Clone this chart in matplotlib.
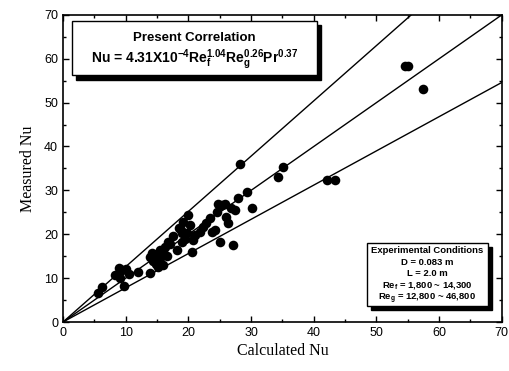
import matplotlib
matplotlib.use("Agg")
import matplotlib.pyplot as plt
from matplotlib.patches import Rectangle
import numpy as np

plt.rcParams["mathtext.fontset"] = "custom"
plt.rcParams["mathtext.rm"] = "Liberation Sans:bold"
plt.rcParams["mathtext.it"] = "Liberation Sans:bold"
plt.rcParams["mathtext.bf"] = "Liberation Sans:bold"

calc = [5.6, 6.2, 8.3, 9.4, 9.1, 9.7, 9.0, 10.0, 12.0, 13.9, 13.9, 14.4, 15.0, 15.5, 16.0, 16.6,
        14.8, 15.5, 16.7, 16.0, 17.0, 18.2, 19.0, 19.0, 19.1, 19.9, 20.6, 20.7, 19.8, 21.8,
        22.3, 23.4, 23.7, 24.2, 25.0, 25.3, 26.3, 27.1, 27.9, 29.3, 30.1, 28.2, 34.3, 35.1,
        42.1, 43.4, 54.6, 55.1, 57.4, 18.5, 19.5, 20.2, 24.5, 25.8, 26.8, 27.5, 15.2, 16.3,
        14.2, 17.5, 22.8, 26.0, 24.8, 21.0, 18.8, 10.5]
meas = [6.6, 8.0, 10.7, 11.8, 10.0, 8.2, 12.3, 12.0, 11.4, 11.2, 14.8, 14.0, 15.5, 16.4, 16.0, 15.0,
        13.2, 14.5, 18.2, 13.0, 17.8, 16.4, 20.3, 18.2, 22.8, 24.4, 15.9, 18.7, 20.3, 20.5,
        21.6, 23.6, 20.5, 21.0, 18.2, 26.6, 22.5, 17.5, 28.2, 29.6, 26.0, 36.0, 33.0, 35.3,
        32.3, 32.3, 58.3, 58.3, 53.1, 21.5, 19.0, 22.0, 25.0, 26.8, 26.0, 25.5, 12.5, 17.0,
        15.8, 19.5, 22.5, 24.0, 27.0, 19.8, 21.0, 11.0]

line_slopes = [1.26, 1.0, 0.78]

x_ticks = [0, 10, 20, 30, 40, 50, 60, 70]
y_ticks = [0, 10, 20, 30, 40, 50, 60, 70]

fig = plt.figure(figsize=(5.10, 3.71), dpi=100)
ax = fig.add_axes([0.1235, 0.132, 0.8605, 0.828])
ax.set_xlim(0, 70)
ax.set_ylim(0, 70)

xs = np.array([0, 70])
for s in line_slopes:
    ax.plot(xs, s * xs, color="black", lw=1.0, zorder=2)

ax.scatter(calc, meas, s=48, color="black", zorder=3, linewidths=0)

tick_font = dict(family="Liberation Sans", size=9)
ax.set_xticks(x_ticks)
ax.set_yticks(y_ticks)
ax.set_xticklabels([str(v) for v in x_ticks], **tick_font)
ax.set_yticklabels([str(v) for v in y_ticks], **tick_font)
ax.set_xticks(np.arange(0, 71, 5), minor=True)
ax.set_yticks(np.arange(0, 71, 5), minor=True)
ax.tick_params(which="both", direction="in", top=True, right=True, width=1.0)
ax.tick_params(which="major", length=4)
ax.tick_params(which="minor", length=2)
for sp in ax.spines.values():
    sp.set_linewidth(1.2)

ax.set_xlabel("Calculated Nu", family="Liberation Serif", size=11.5, labelpad=3)
ax.set_ylabel("Measured Nu", family="Liberation Serif", size=11.5, labelpad=6)

def shadow_box(x0, y0, x1, y1, dx=0.7, dy=1.0):
    ax.add_patch(Rectangle((x0 + dx, y0 - dy), x1 - x0, y1 - y0, facecolor="black",
                           edgecolor="black", zorder=4, clip_on=False))
    ax.add_patch(Rectangle((x0, y0), x1 - x0, y1 - y0, facecolor="white",
                           edgecolor="black", lw=1.0, zorder=5, clip_on=False))

shadow_box(1.4, 56.2, 40.5, 68.6)
ax.text(21, 64.8, "Present Correlation", ha="center", va="center", fontsize=9.5,
        fontweight="bold", family="Liberation Sans", zorder=6)
ax.text(21, 59.8, r"Nu = 4.31X10$^{-4}$Re$_{f}^{1.04}$Re$_{g}^{0.26}$Pr$^{0.37}$",
        ha="center", va="center", fontsize=10, fontweight="bold", family="Liberation Sans", zorder=6)

shadow_box(48.5, 3.6, 67.8, 18.0, dx=0.6, dy=0.9)
cx = 58.1
lines = ["Experimental Conditions", "D = 0.083 m", "L = 2.0 m",
         r"Re$_{f}$ = 1,800 ~ 14,300", r"Re$_{g}$ = 12,800 ~ 46,800"]
ys = [16.3, 13.6, 11.0, 8.3, 5.3]
for t, yy in zip(lines, ys):
    ax.text(cx, yy, t, ha="center", va="center", fontsize=6.8, fontweight="bold",
            family="Liberation Sans", zorder=6)

fig.savefig("out.png", dpi=100)
